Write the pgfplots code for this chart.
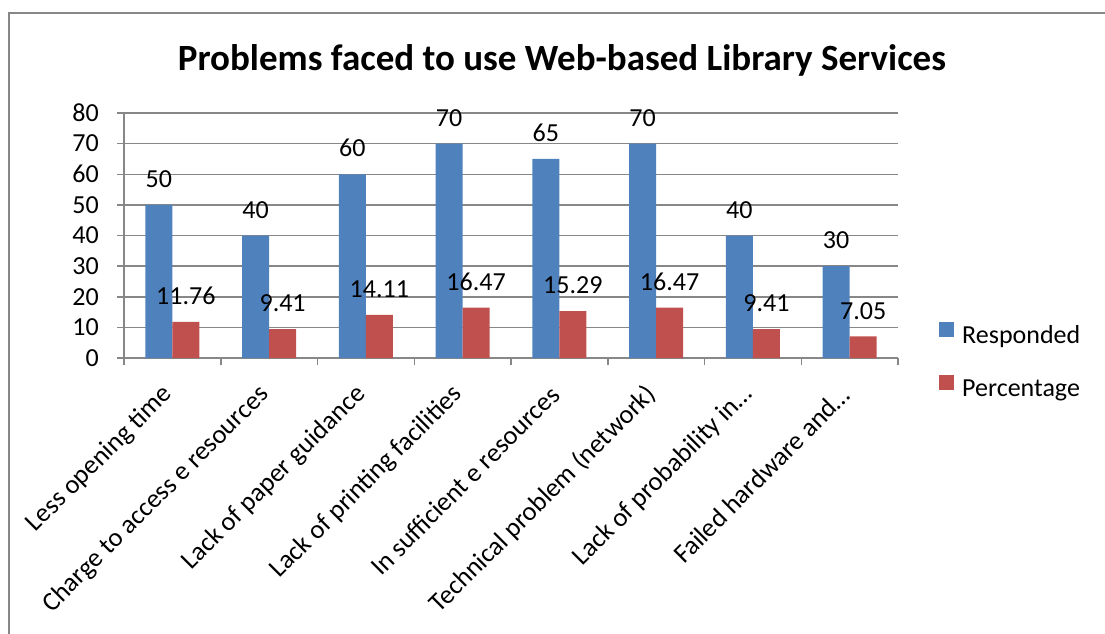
\documentclass[border=0pt]{standalone}
\usepackage{pgfplots}
\pgfplotsset{compat=1.18}
\usepackage{fontspec}
\setmainfont{Carlito}

\definecolor{barblue}{HTML}{4F81BD}
\definecolor{barred}{HTML}{C0504D}
\definecolor{linegray}{HTML}{878787}

\newcommand{\lblfont}{\fontsize{26}{30}\selectfont}

\pgfplotsset{
  sqlegend/.style={legend image code/.code={\fill[##1] (0pt,0pt) rectangle (15pt,15pt);}},
}

\begin{document}
\begin{tikzpicture}[x=1pt,y=1pt]
\useasboundingbox (0,0) rectangle (1105,634);
% chart frame
\draw[linegray, line width=2pt] (9,-30) rectangle (1140,621);
% chart title
\node[font=\fontsize{37}{44}\selectfont\bfseries, anchor=center] at (562,574)
  {Problems faced to use Web-based Library Services};
\begin{axis}[
  at={(124pt,276pt)}, anchor=south west,
  scale only axis, width=774pt, height=245pt,
  ybar=0pt, bar width=27pt,
  xmin=-0.5, xmax=7.5, ymin=0, ymax=80,
  ytick={0,10,...,80},
  xtick={-0.5,0.5,...,7.5}, xticklabels={,,,,,,,,},
  extra x ticks={0,1,2,3,4,5,6,7},
  extra x tick labels={Less opening time, Charge to access e resources,
    Lack of paper guidance, Lack of printing facilities,
    In sufficient e resources, Technical problem (network),
    Lack of probability in\dots, Failed hardware and\dots},
  extra x tick style={major tick length=0pt,
    xticklabel style={rotate=45, anchor=east, inner sep=0pt, yshift=-20pt, xshift=-26pt,
      font=\fontsize{26.5}{30}\selectfont}},
  ymajorgrids, grid style={linegray, line width=1.5pt},
  axis x line*=bottom, axis y line*=left,
  axis line style={linegray, line width=1.5pt, -},
  tick align=outside, major tick length=7pt,
  tick style={linegray, line width=1.5pt},
  /pgf/number format/assume math mode=true,
  ticklabel style={font=\lblfont, black},
  yticklabel style={inner sep=0pt, xshift=-18pt},
  nodes near coords,
  every node near coord/.append style={font=\lblfont, black, inner sep=0pt, yshift=17pt},
  sqlegend,
  legend style={draw=none, fill=none, at={(1.0491,-0.0143)}, anchor=west,
    font=\lblfont, /tikz/row sep=27pt, /tikz/column sep=8pt,
    nodes={inner sep=0pt, text height=17pt, text depth=5pt}},
  legend cell align=left,
]
\addplot[fill=barblue, draw=none] coordinates
  {(0,50) (1,40) (2,60) (3,70) (4,65) (5,70) (6,40) (7,30)};
\addplot[fill=barred, draw=none] coordinates
  {(0,11.76) (1,9.41) (2,14.11) (3,16.47) (4,15.29) (5,16.47) (6,9.41) (7,7.05)};
\legend{Responded, Percentage}
\end{axis}
\end{tikzpicture}
\end{document}
